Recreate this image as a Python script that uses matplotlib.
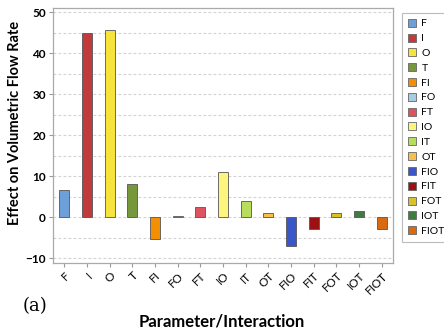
import matplotlib.pyplot as plt
from matplotlib.patches import Patch

terms = ['F', 'I', 'O', 'T', 'FI', 'FO', 'FT', 'IO', 'IT', 'OT',
         'FIO', 'FIT', 'FOT', 'IOT', 'FIOT']
effects = [6.5, 45.0, 45.7, 8.0, -5.3, 0.2, 2.4, 10.9, 4.0, 1.0,
           -7.0, -2.9, 1.0, 1.4, -2.9]
colors = ['#6d9fd8', '#c13a3c', '#f8e23c', '#76983a', '#f28f04', '#a8cde2',
          '#e0525d', '#fdf67e', '#b8dc5c', '#f6c04c', '#3a56c8', '#9c1212',
          '#d8c22c', '#3f7c3f', '#d86a12']

plt.rcParams['font.family'] = ['Lato', 'DejaVu Sans']

fig = plt.figure(figsize=(4.44, 3.33), dpi=100)
ax = fig.add_axes([0.119, 0.21, 0.766, 0.766])

x = range(len(terms))
ax.bar(x, effects, width=0.44, color=colors, edgecolor='#555555',
       linewidth=0.6, zorder=3)

ax.set_xlim(-0.5, len(terms) - 0.5)
ax.set_ylim(-11.2, 51)
ax.set_yticks([-10, 0, 10, 20, 30, 40, 50])
ax.set_yticks(range(-10, 51, 5), minor=True)
ax.grid(axis='y', which='both', linestyle=(0, (2.5, 2)), color='#d2d2d2',
        linewidth=0.8, zorder=0)
ax.tick_params(axis='y', which='minor', length=0)
ax.set_xticks(list(x))
ax.set_xticklabels(terms, rotation=45, ha='right', rotation_mode='anchor',
                   fontsize=8.5)
ax.tick_params(axis='y', labelsize=8.5, length=3, color='#999999', pad=2)
ax.tick_params(axis='x', length=3, color='#999999', pad=2)
for lbl in ax.get_yticklabels():
    lbl.set_fontweight('bold')
for s in ax.spines.values():
    s.set_color('#aaaaaa')
    s.set_linewidth(0.9)

ax.set_ylabel('Effect on Volumetric Flow Rate', fontsize=10.5,
              fontweight='bold')
ax.yaxis.set_label_coords(-0.092, 0.55)
fig.text(0.5, 0.035, 'Parameter/Interaction', ha='center', va='center',
         fontsize=12, fontweight='bold')
fig.text(0.05, 0.08, '(a)', ha='left', va='center', fontsize=13,
         family='DejaVu Serif')

handles = [Patch(facecolor=c, edgecolor='#666666', linewidth=0.6)
           for c in colors]
leg = fig.legend(handles, terms, loc='upper left',
                 bbox_to_anchor=(0.893, 0.978), fontsize=7.5,
                 handlelength=0.8, handleheight=0.8, handletextpad=0.5,
                 labelspacing=0.5, borderpad=0.6, fancybox=False,
                 edgecolor='#aaaaaa')
leg.get_frame().set_linewidth(0.8)

fig.savefig('out.png', dpi=100)
